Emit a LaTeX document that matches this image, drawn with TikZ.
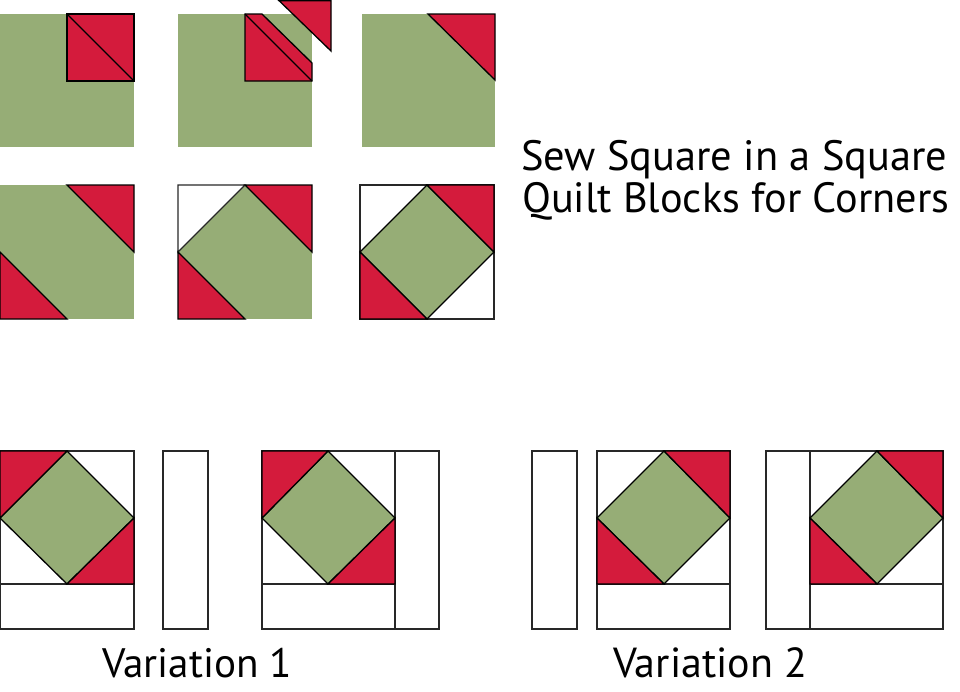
\documentclass[tikz,border=0pt]{standalone}
\usepackage{fontspec}
\setmainfont{PT Sans}
\definecolor{qgreen}{RGB}{150,173,118}
\definecolor{qred}{RGB}{212,27,60}
\definecolor{qline}{RGB}{40,40,40}
\tikzset{
  grn/.style={fill=qgreen},
  redp/.style={fill=qred, draw=black, line width=1.3pt, line join=miter},
  ln/.style={draw=black, line width=1.3pt},
  frame/.style={draw=qline, line width=1.3pt, fill=white},
  dia/.style={fill=qgreen, draw=black, line width=1.3pt},
  lbl/.style={anchor=base west, inner sep=0pt, text=black}
}
\begin{document}
\begin{tikzpicture}[x=1pt,y=-1pt]
\useasboundingbox (0,0) rectangle (960,691);
% ---- top row ----
% block 1
\fill[grn] (0,14) rectangle (134,147);
\path[redp] (67,14) rectangle (134,81);
\draw[ln] (67,14) -- (134,81);
% block 2
\fill[grn] (178,14) rectangle (312,147);
\path[redp] (245,14) -- (262,14) -- (312,63) -- (312,81) -- (245,81) -- cycle;
\draw[ln] (245,14) -- (312,81);
\path[redp] (279,0.6) -- (331,0.6) -- (331,51) -- cycle;
% block 3
\fill[grn] (362,14) rectangle (495,147);
\path[redp] (428,14) -- (495,14) -- (495,80) -- cycle;
% ---- second row ----
% block 4
\fill[grn] (0,185) rectangle (134,319);
\path[redp] (67,185) -- (134,185) -- (134,252) -- cycle;
\path[redp] (0,252) -- (67,319) -- (0,319) -- cycle;
% block 5
\fill[grn] (178,185) rectangle (312,319);
\path[frame] (178,185) -- (245,185) -- (178,252) -- cycle;
\path[redp] (245,185) -- (312,185) -- (312,252) -- cycle;
\path[redp] (178,252) -- (245,319) -- (178,319) -- cycle;
% block 6
\path[frame] (360,185) rectangle (494,319);
\path[dia] (427,185) -- (494,252) -- (427,319) -- (360,252) -- cycle;
\path[redp] (427,185) -- (494,185) -- (494,252) -- cycle;
\path[redp] (360,252) -- (427,319) -- (360,319) -- cycle;
% ---- bottom: variation 1 ----
% block A
\path[frame] (0,451) rectangle (134,629);
\draw[frame] (0,584) -- (134,584);
\path[dia] (67,451) -- (134,518) -- (67,584) -- (0,518) -- cycle;
\path[redp] (0,451) -- (67,451) -- (0,518) -- cycle;
\path[redp] (134,518) -- (134,584) -- (67,584) -- cycle;
% strip
\path[frame] (163,451) rectangle (208,629);
% block B
\path[frame] (262,451) rectangle (439,629);
\draw[frame] (262,584) -- (395,584);
\draw[frame] (395,451) -- (395,629);
\path[dia] (328,451) -- (395,518) -- (328,584) -- (262,518) -- cycle;
\path[redp] (262,451) -- (328,451) -- (262,518) -- cycle;
\path[redp] (395,518) -- (395,584) -- (328,584) -- cycle;
% ---- bottom: variation 2 ----
% strip
\path[frame] (532,451) rectangle (577,629);
% block C
\path[frame] (597,451) rectangle (730,629);
\draw[frame] (597,584) -- (730,584);
\path[dia] (664,451) -- (730,518) -- (664,584) -- (597,518) -- cycle;
\path[redp] (664,451) -- (730,451) -- (730,518) -- cycle;
\path[redp] (597,518) -- (664,584) -- (597,584) -- cycle;
% block D
\path[frame] (766,451) rectangle (943,629);
\draw[frame] (810,451) -- (810,629);
\draw[frame] (810,584) -- (943,584);
\path[dia] (877,451) -- (943,518) -- (877,584) -- (810,518) -- cycle;
\path[redp] (877,451) -- (943,451) -- (943,518) -- cycle;
\path[redp] (810,518) -- (877,584) -- (810,584) -- cycle;
% ---- text ----
\node[lbl] (t1) at (521,170) {\resizebox{426pt}{!}{Sew Square in a Square}};
\node[lbl] (t2) at (522,212) {\resizebox{427pt}{!}{Quilt Blocks for Corners}};
\node[lbl] (v1) at (102,677) {\resizebox{190pt}{!}{Variation 1}};
\node[lbl] (v2) at (613,677) {\resizebox{194pt}{!}{Variation 2}};
\end{tikzpicture}
\end{document}
